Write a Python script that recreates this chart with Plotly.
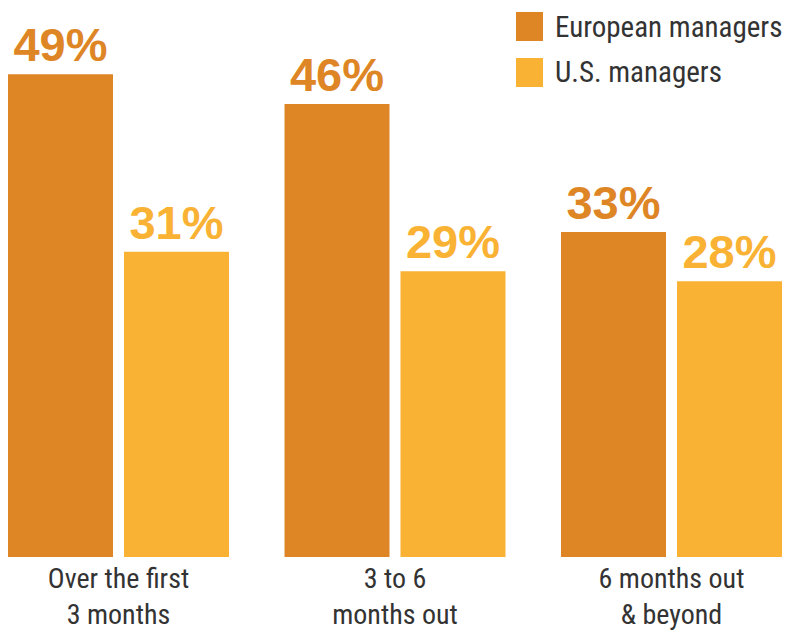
import plotly.graph_objects as go

categories = ["Over the first<br>3 months", "3 to 6<br>months out", "6 months out<br>& beyond"]
european = [49, 46, 33]
us = [31, 29, 28]
series_names = ["European managers", "U.S. managers"]
colors = ["#DE8625", "#F9B233"]

W, H = 785, 632
plot_bottom_px = 557  # baseline in pixels from top
px_per_unit = 9.85
ymax = plot_bottom_px / px_per_unit

label_font = "Liberation Sans Narrow, Roboto Condensed, DejaVu Sans Condensed, sans-serif"
num_font = "Liberation Sans, Arial, Roboto, sans-serif"

fig = go.Figure()
for name, vals, col in zip(series_names, [european, us], colors):
    fig.add_trace(go.Bar(
        x=categories, y=vals, name=name,
        marker=dict(color=col, line=dict(width=0)),
        text=[f"{v}%" for v in vals],
        textposition="outside",
        textfont=dict(family=num_font, size=47, color=col, weight="bold"),
        cliponaxis=False,
        showlegend=False,
    ))

# manual legend (large square swatches)
legend_rows = [(12, 41), (58, 87)]
for (y0, y1), name, col in zip(legend_rows, series_names, colors):
    fig.add_shape(type="rect", xref="paper", yref="paper",
                  x0=516 / W, x1=543 / W,
                  y0=1 - y1 / plot_bottom_px, y1=1 - y0 / plot_bottom_px,
                  fillcolor=col, line=dict(width=0))
    fig.add_annotation(xref="paper", yref="paper",
                       x=553 / W, y=1 - ((y0 + y1) / 2) / plot_bottom_px,
                       xanchor="left", yanchor="middle", showarrow=False,
                       text=name,
                       font=dict(family=label_font, size=29, color="#333333"))

fig.update_layout(
    width=W, height=H,
    margin=dict(l=0, r=0, t=0, b=H - plot_bottom_px, autoexpand=False),
    barmode="group", bargap=0.161, bargroupgap=0.0948,
    plot_bgcolor="white", paper_bgcolor="white",
    uniformtext=dict(mode=False),
)
fig.update_xaxes(
    range=[-118.5 / 276.5, 2 + (W - 671.5) / 276.5],
    showgrid=False, zeroline=False, showline=False, ticks="",
    automargin=False,
    ticklabelstandoff=2,
    tickfont=dict(family=label_font, size=28, color="#333333"),
)
fig.update_yaxes(range=[0, ymax], visible=False, showgrid=False, zeroline=False,
                 automargin=False)

fig.write_html("out.html")
